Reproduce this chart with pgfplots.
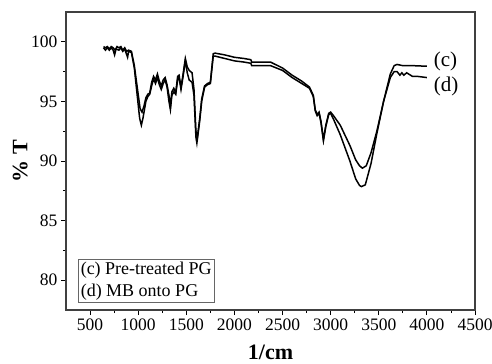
\documentclass[border=0pt]{standalone}
\usepackage{pgfplots}
\pgfplotsset{compat=1.18}
\usepackage{fontspec}
\setmainfont{Liberation Serif}
\begin{document}
\begin{tikzpicture}
\begin{axis}[
 name=ax,
 scale only axis, width=409bp, height=298bp,
 xmin=250, xmax=4500, ymin=77.5, ymax=102.5,
 xtick={500,1000,...,4500}, ytick={80,85,...,100},
 minor x tick num=1, minor y tick num=1,
 tick align=outside, xtick pos=bottom, ytick pos=left,
 major tick length=5bp, minor tick length=3bp,
 tick style={black, line width=0.8pt},
 tick label style={font=\fontsize{17.5bp}{17.5bp}\selectfont},
 /pgf/number format/assume math mode=true,
 /pgf/number format/1000 sep={},
 xlabel={1/cm}, ylabel={\% T},
 label style={font=\fontsize{22bp}{22bp}\selectfont\bfseries},
 xlabel style={at={(axis description cs:0.5,-0.141)}, anchor=center},
 ylabel style={at={(axis description cs:-0.112,0.5)}, anchor=center},
 axis line style={black!75, line width=1.2pt},
]
\addplot[black, line width=1.5pt] coordinates {
(640,99.6)(660,99.5)(680,99.6)(700,99.4)(720,99.6)(740,99.5)(760,99.3)(780,99.6)(800,99.5)(820,99.6)(840,99.3)(860,99.5)(880,99.2)(900,99.3)(930,99.2)(960,98.0)(990,96.2)(1020,94.4)(1040,94.1)(1060,94.6)(1080,95.3)(1100,95.6)(1120,95.7)(1140,96.6)(1160,97.1)(1180,96.8)(1200,97.3)(1220,96.7)(1240,96.3)(1260,96.8)(1280,97.0)(1300,96.4)(1320,95.5)(1335,94.6)(1350,95.8)(1370,96.1)(1390,95.7)(1410,97.1)(1425,97.2)(1445,96.2)(1465,97.2)(1490,98.6)(1510,97.9)(1530,97.6)(1560,97.4)(1580,96.0)(1600,92.5)(1615,92.0)(1640,93.6)(1660,95.2)(1690,96.3)(1720,96.5)(1750,96.6)(1780,99.0)(1800,99.05)(1900,98.9)(2000,98.7)(2100,98.6)(2170,98.5)(2180,98.3)(2300,98.3)(2375,98.3)(2500,97.8)(2600,97.2)(2700,96.7)(2780,96.2)(2820,95.5)(2840,94.3)(2860,93.9)(2880,94.1)(2900,93.3)(2925,91.8)(2950,93.0)(2980,94.0)(3000,94.1)(3030,93.8)(3100,93.0)(3200,91.3)(3260,90.1)(3300,89.6)(3330,89.4)(3370,89.6)(3420,90.7)(3480,92.5)(3550,95.0)(3620,97.3)(3660,98.0)(3690,98.1)(3750,98.0)(3850,98.0)(4000,97.95)
};
\addplot[black, line width=1.5pt] coordinates {
(640,99.5)(660,99.3)(680,99.5)(700,99.3)(720,99.5)(740,99.3)(755,98.9)(770,99.4)(800,99.3)(820,99.5)(840,99.2)(860,99.4)(890,98.7)(900,99.2)(930,99.1)(960,97.8)(990,95.5)(1015,93.6)(1033,93.0)(1050,93.6)(1080,95.0)(1100,95.4)(1120,95.6)(1140,96.3)(1160,96.9)(1180,96.5)(1200,97.0)(1220,96.4)(1240,96.0)(1260,96.5)(1280,96.8)(1300,96.2)(1320,95.0)(1335,94.3)(1350,95.5)(1370,95.8)(1390,95.6)(1410,96.8)(1425,97.0)(1445,96.0)(1465,97.0)(1490,98.4)(1510,97.4)(1530,96.8)(1560,96.6)(1580,95.5)(1600,92.0)(1610,91.5)(1640,93.4)(1660,95.0)(1690,96.2)(1720,96.4)(1750,96.5)(1780,98.8)(1800,98.8)(1900,98.6)(2000,98.4)(2100,98.3)(2170,98.2)(2180,98.0)(2300,98.0)(2375,98.0)(2500,97.6)(2600,97.0)(2700,96.5)(2780,96.1)(2820,95.4)(2840,94.2)(2860,93.8)(2880,94.0)(2900,93.2)(2925,91.7)(2950,92.9)(2980,93.9)(3000,94.0)(3030,93.5)(3100,92.2)(3200,90.0)(3260,88.5)(3300,87.95)(3320,87.85)(3360,88.0)(3420,89.8)(3480,92.3)(3550,95.0)(3620,97.0)(3660,97.5)(3690,97.5)(3720,97.2)(3740,97.4)(3760,97.2)(3790,97.4)(3850,97.1)(3900,97.1)(4000,97.0)
};
\node[anchor=west, font=\fontsize{21bp}{21bp}\selectfont, inner sep=0pt] at (axis cs:4070,98.37) {(c)};
\node[anchor=west, font=\fontsize{21bp}{21bp}\selectfont, inner sep=0pt] at (axis cs:4070,96.26) {(d)};
\node[anchor=south west, draw=black!60, line width=0.8pt, align=left, font=\fontsize{18bp}{22bp}\selectfont, inner sep=2.5bp] at (rel axis cs:0.029,0.023) {(c) Pre-treated PG\\(d) MB onto PG};
\end{axis}
\pgfresetboundingbox
\path[use as bounding box] ([shift={(-66bp,-54bp)}]ax.south west) rectangle ([shift={(17bp,12bp)}]ax.north east);
\end{tikzpicture}
\end{document}
